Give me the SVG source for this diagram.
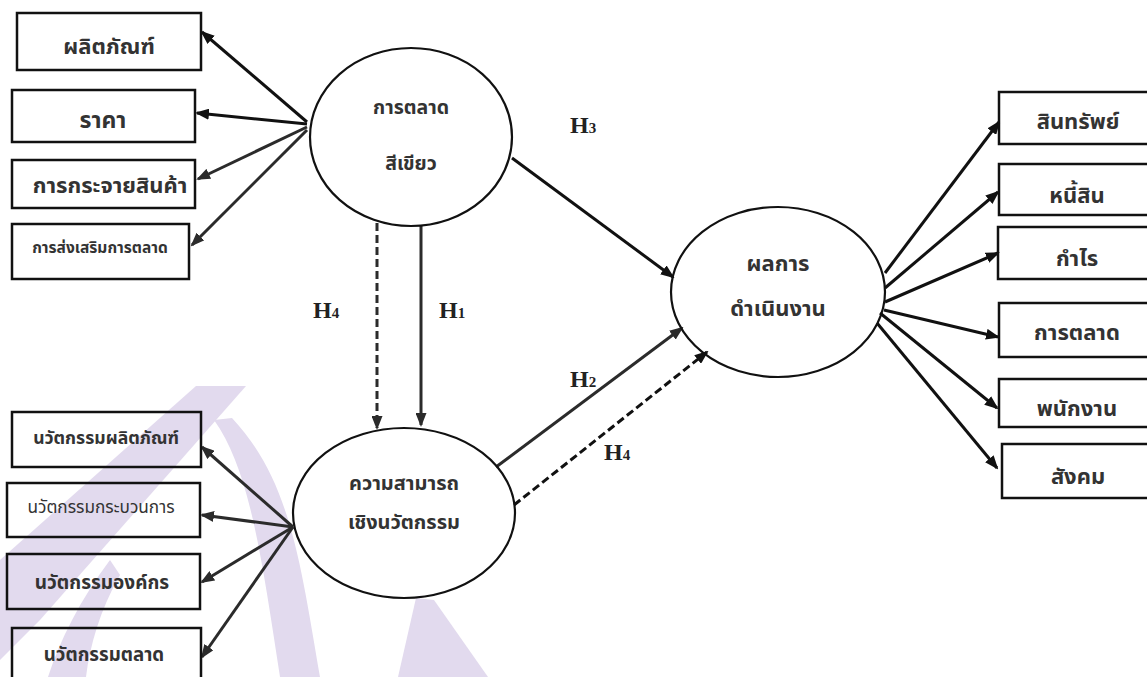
<svg xmlns="http://www.w3.org/2000/svg" width="1147" height="677" viewBox="0 0 1147 677">
  <defs>
    <marker id="arrowK" viewBox="0 0 14 11" refX="12" refY="5.5" markerWidth="14" markerHeight="11" markerUnits="userSpaceOnUse" orient="auto">
      <path d="M0,0 L14,5.5 L0,11 z" fill="#111"/>
    </marker>
    <marker id="arrowG" viewBox="0 0 14 11" refX="12" refY="5.5" markerWidth="14" markerHeight="11" markerUnits="userSpaceOnUse" orient="auto">
      <path d="M0,0 L14,5.5 L0,11 z" fill="#2b2b2b"/>
    </marker>
  </defs>
  <style>
    .box { fill: none; stroke: #111; stroke-width: 2.5; }
    .oval { fill: none; stroke: #111; stroke-width: 2.2; }
    .th { font-family: "Noto Sans Thai", "Noto Sans", "DejaVu Sans", sans-serif; fill: #333; text-anchor: middle; font-weight: bold; }
    .thl { font-family: "Noto Sans Thai", "Noto Sans", "DejaVu Sans", sans-serif; fill: #333; text-anchor: middle; }
    .hyp { font-family: "Liberation Serif", serif; font-weight: bold; font-size: 24px; fill: #222; }
    .sub { font-size: 15px; }
    .ln { fill: none; stroke: #111; stroke-width: 3; marker-end: url(#arrowK); }
    .lg { fill: none; stroke: #2b2b2b; stroke-width: 3; marker-end: url(#arrowG); }
    .dash { stroke-dasharray: 8 4; }
    .wm { fill: #e2daee; }
  </style>

  <rect width="1147" height="677" fill="#ffffff"/>

  <!-- background watermark bands -->
  <g id="watermark">
    <path class="wm" d="M196,386 L246,386 L40,620 L0,660 L0,560 Z"/>
    <path class="wm" d="M214,420 C250,470 262,560 280,677 L320,677 C300,560 290,480 232,418 Z"/>
    <path class="wm" d="M48,677 C60,640 80,600 110,560 L120,575 C100,610 90,645 86,677 Z"/>
    <path class="wm" d="M416,598 L434,600 L488,677 L398,677 Z"/>
  </g>

  <!-- connectors -->
  <g id="connectors">
    <line class="ln" x1="307" y1="122" x2="202" y2="32"/>
    <line class="ln" x1="307" y1="124" x2="197" y2="113"/>
    <line class="lg" x1="307" y1="127" x2="198" y2="179"/>
    <line class="lg" x1="307" y1="130" x2="192" y2="245"/>

    <line class="lg dash" x1="377" y1="223" x2="377" y2="428"/>
    <line class="lg" x1="421" y1="226" x2="421" y2="425"/>

    <line class="ln" x1="512" y1="158" x2="673" y2="277"/>
    <line class="lg" x1="496" y1="467" x2="682" y2="328"/>
    <line class="ln dash" x1="514" y1="505" x2="707" y2="352"/>

    <line class="lg" x1="293" y1="527" x2="202" y2="447"/>
    <line class="lg" x1="293" y1="527" x2="202" y2="515"/>
    <line class="lg" x1="293" y1="527" x2="202" y2="582"/>
    <line class="lg" x1="293" y1="527" x2="202" y2="657"/>

    <line class="ln" x1="885" y1="273" x2="999" y2="122"/>
    <line class="ln" x1="885" y1="288" x2="998" y2="192"/>
    <line class="ln" x1="885" y1="302" x2="998" y2="253"/>
    <line class="ln" x1="884" y1="310" x2="998" y2="337"/>
    <line class="ln" x1="880" y1="313" x2="997" y2="408"/>
    <line class="ln" x1="877" y1="323" x2="997" y2="468"/>
  </g>

  <!-- hypothesis labels -->
  <g id="labels">
    <text class="hyp" x="570" y="133">H<tspan class="sub">3</tspan></text>
    <text class="hyp" x="313" y="318">H<tspan class="sub">4</tspan></text>
    <text class="hyp" x="439" y="318">H<tspan class="sub">1</tspan></text>
    <text class="hyp" x="570" y="387">H<tspan class="sub">2</tspan></text>
    <text class="hyp" x="604" y="460">H<tspan class="sub">4</tspan></text>
  </g>

  <!-- latent constructs -->
  <g id="green-marketing">
    <ellipse class="oval" cx="411" cy="137" rx="101" ry="89"/>
    <text class="th" x="411" y="114" font-size="19.5">การตลาด</text>
    <text class="th" x="411" y="170" font-size="19.5">สีเขียว</text>
  </g>
  <g id="innovation-capability">
    <ellipse class="oval" cx="404" cy="513" rx="111" ry="85"/>
    <text class="th" x="404" y="490" font-size="20">ความสามารถ</text>
    <text class="th" x="404" y="529" font-size="20">เชิงนวัตกรรม</text>
  </g>
  <g id="performance">
    <ellipse class="oval" cx="778" cy="292" rx="107" ry="85"/>
    <text class="th" x="778" y="271" font-size="22">ผลการ</text>
    <text class="th" x="778" y="316" font-size="22">ดำเนินงาน</text>
  </g>

  <!-- green marketing indicators -->
  <g id="product">
    <rect class="box" x="17" y="13" width="184" height="57"/>
    <text class="th" x="109" y="54" font-size="22">ผลิตภัณฑ์</text>
  </g>
  <g id="price">
    <rect class="box" x="12" y="90" width="183" height="52"/>
    <text class="th" x="103" y="128" font-size="23">ราคา</text>
  </g>
  <g id="distribution">
    <rect class="box" x="12" y="160" width="183" height="48"/>
    <text class="th" x="110" y="193" font-size="22">การกระจายสินค้า</text>
  </g>
  <g id="promotion">
    <rect class="box" x="12" y="224" width="177" height="55"/>
    <text class="th" x="100" y="253" font-size="15.5">การส่งเสริมการตลาด</text>
  </g>

  <!-- innovation capability indicators -->
  <g id="product-innovation">
    <rect class="box" x="12" y="412" width="189" height="55"/>
    <text class="th" x="106" y="444" font-size="17.6">นวัตกรรมผลิตภัณฑ์</text>
  </g>
  <g id="process-innovation">
    <rect class="box" x="7" y="483" width="193" height="54"/>
    <text class="thl" x="101" y="513" font-size="17.2">นวัตกรรมกระบวนการ</text>
  </g>
  <g id="organizational-innovation">
    <rect class="box" x="7" y="554" width="193" height="55"/>
    <text class="th" x="102" y="589" font-size="19">นวัตกรรมองค์กร</text>
  </g>
  <g id="marketing-innovation">
    <rect class="box" x="12" y="628" width="189" height="62"/>
    <text class="th" x="104" y="661" font-size="18.7">นวัตกรรมตลาด</text>
  </g>

  <!-- performance indicators -->
  <g id="assets">
    <rect class="box" x="999" y="92" width="160" height="52"/>
    <text class="th" x="1078" y="129" font-size="22">สินทรัพย์</text>
  </g>
  <g id="liabilities">
    <rect class="box" x="999" y="164" width="160" height="51"/>
    <text class="th" x="1077" y="203" font-size="22">หนี้สิน</text>
  </g>
  <g id="profit">
    <rect class="box" x="998" y="227" width="160" height="52"/>
    <text class="th" x="1077" y="266" font-size="22">กำไร</text>
  </g>
  <g id="marketing">
    <rect class="box" x="999" y="303" width="160" height="54"/>
    <text class="th" x="1077" y="340" font-size="22">การตลาด</text>
  </g>
  <g id="employees">
    <rect class="box" x="999" y="379" width="160" height="48"/>
    <text class="th" x="1077" y="416" font-size="22">พนักงาน</text>
  </g>
  <g id="society">
    <rect class="box" x="1002" y="444" width="160" height="54"/>
    <text class="th" x="1078" y="484" font-size="22">สังคม</text>
  </g>
</svg>
